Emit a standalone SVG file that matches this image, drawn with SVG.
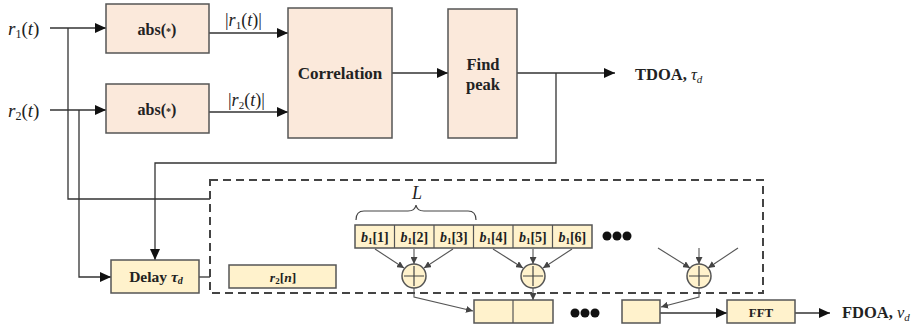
<svg xmlns="http://www.w3.org/2000/svg" width="912" height="329" viewBox="0 0 912 329">
<style>
.top{fill:#FBE9DB;stroke:#555;stroke-width:1.5}
.bot{fill:#FFF2CC;stroke:#555;stroke-width:1.5}
.ln{fill:none;stroke:#333;stroke-width:1.3}
.sm{fill:none;stroke:#555;stroke-width:1.1}
.t{font-family:"Liberation Serif","Times New Roman",serif;fill:#222}
.b{font-weight:bold}
.i{font-style:italic}
</style>
<defs>
<marker id="ah" markerUnits="userSpaceOnUse" markerWidth="12" markerHeight="10" refX="11" refY="5" orient="auto"><path d="M0,0 L11,5 L0,10 Z" fill="#111"/></marker>
<marker id="as" markerUnits="userSpaceOnUse" markerWidth="8" markerHeight="7" refX="7" refY="3.5" orient="auto"><path d="M0,0 L7,3.5 L0,7 Z" fill="#444"/></marker>
</defs>
<g id="labels">
<text class="t" x="8" y="35" font-size="19"><tspan class="i">r</tspan><tspan font-size="12" dy="3">1</tspan><tspan dy="-3">(</tspan><tspan class="i">t</tspan>)</text>
<text class="t" x="8" y="117" font-size="19"><tspan class="i">r</tspan><tspan font-size="12" dy="3">2</tspan><tspan dy="-3">(</tspan><tspan class="i">t</tspan>)</text>
<text class="t" x="225" y="26" font-size="18">|<tspan class="i">r</tspan><tspan font-size="11" dy="3">1</tspan><tspan dy="-3">(</tspan><tspan class="i">t</tspan>)|</text>
<text class="t" x="228" y="106" font-size="18">|<tspan class="i">r</tspan><tspan font-size="11" dy="3">2</tspan><tspan dy="-3">(</tspan><tspan class="i">t</tspan>)|</text>
<text class="t b" x="635" y="80" font-size="16.5">TDOA, <tspan class="i" font-weight="normal">τ</tspan><tspan class="i" font-weight="normal" font-size="11" dy="3">d</tspan></text>
<text class="t b" x="842" y="318" font-size="16.5">FDOA, <tspan class="i" font-weight="normal">ν</tspan><tspan class="i" font-weight="normal" font-size="11" dy="3">d</tspan></text>
<text class="t i" x="417" y="199" font-size="18" text-anchor="middle">L</text>
<path d="M356,220 Q356,211 364,211 L408,211 Q415,211 416,205 Q417,211 424,211 L468,211 Q476,211 476,220" fill="none" stroke="#444" stroke-width="1.2"/>
<g fill="#111"><circle cx="607" cy="236" r="4.5"/><circle cx="617" cy="236" r="4.5"/><circle cx="627" cy="236" r="4.5"/><circle cx="575" cy="313" r="4.5"/><circle cx="585" cy="313" r="4.5"/><circle cx="595" cy="313" r="4.5"/></g>
</g>
<g id="connectors">
<path class="ln" d="M50,28 H106" marker-end="url(#ah)"/>
<path class="ln" d="M50,110 H106" marker-end="url(#ah)"/>
<path class="ln" d="M68,28 V199 H210"/>
<path class="ln" d="M79,110 V277 H111" marker-end="url(#ah)"/>
<path class="ln" d="M209,33 H288" marker-end="url(#ah)"/>
<path class="ln" d="M209,112 H288" marker-end="url(#ah)"/>
<path class="ln" d="M392,73 H448" marker-end="url(#ah)"/>
<path class="ln" d="M517,73 H615" marker-end="url(#ah)"/>
<path class="ln" d="M556,73 V163 H155 V260" marker-end="url(#ah)"/>
<path class="ln" d="M199,277 H210"/>
<path class="sm" d="M375,249 L404,268" marker-end="url(#as)"/>
<path class="sm" d="M414,249 V264" marker-end="url(#as)"/>
<path class="sm" d="M453,249 L424,268" marker-end="url(#as)"/>
<path class="sm" d="M493,249 L523,268" marker-end="url(#as)"/>
<path class="sm" d="M533,249 V264" marker-end="url(#as)"/>
<path class="sm" d="M572,249 L543,268" marker-end="url(#as)"/>
<path class="sm" d="M658,248 L690,268" marker-end="url(#as)"/>
<path class="sm" d="M699,248 V264" marker-end="url(#as)"/>
<path class="sm" d="M738,248 L708,268" marker-end="url(#as)"/>
<path class="sm" d="M414,288 V297 L473,311" marker-end="url(#as)"/>
<path class="sm" d="M533,288 V300" marker-end="url(#as)"/>
<path class="sm" d="M699,288 V297 L661,307" marker-end="url(#as)"/>
<path class="ln" d="M660,313 H727" marker-end="url(#ah)"/>
<path class="ln" d="M795,313 H830" marker-end="url(#ah)"/>
</g>
<g id="dashbox"><rect x="210" y="180" width="553" height="113" fill="none" stroke="#444" stroke-width="2" stroke-dasharray="8,5"/></g>
<g id="abs1"><rect class="top" x="106" y="4" width="103" height="49"/><text class="t b" x="157" y="35" font-size="16" text-anchor="middle">abs(<tspan font-size="10">*</tspan>)</text></g>
<g id="abs2"><rect class="top" x="106" y="84" width="103" height="49"/><text class="t b" x="157" y="115" font-size="16" text-anchor="middle">abs(<tspan font-size="10">*</tspan>)</text></g>
<g id="corr"><rect class="top" x="288" y="8" width="104" height="130"/><text class="t b" x="340" y="79" font-size="17" text-anchor="middle">Correlation</text></g>
<g id="peak"><rect class="top" x="448" y="9" width="69" height="129"/><text class="t b" x="483" y="70" font-size="16.5" text-anchor="middle">Find</text><text class="t b" x="483" y="90" font-size="16.5" text-anchor="middle">peak</text></g>
<g id="delay"><rect class="bot" x="111" y="260" width="88" height="33"/><text class="t b" x="156" y="282" font-size="15.5" text-anchor="middle">Delay <tspan class="i">τ</tspan><tspan class="i" font-size="10" dy="2">d</tspan></text></g>
<g id="r2n"><rect class="bot" x="229" y="265" width="107" height="23"/><text class="t b" x="283" y="282" font-size="13.5" text-anchor="middle"><tspan class="i">r</tspan><tspan font-size="9" dy="2">2</tspan><tspan dy="-2">[</tspan><tspan class="i">n</tspan>]</text></g>
<g id="buffer">
<rect class="bot" x="355" y="225" width="237" height="23"/>
<path d="M394.5,225 V248 M434,225 V248 M473.5,225 V248 M513,225 V248 M552.5,225 V248" stroke="#555" stroke-width="1.2"/>
<g class="t b" font-size="14" text-anchor="middle">
<text x="374.8" y="242"><tspan class="i">b</tspan><tspan font-size="9" dy="2">1</tspan><tspan dy="-2">[1]</tspan></text>
<text x="414.3" y="242"><tspan class="i">b</tspan><tspan font-size="9" dy="2">1</tspan><tspan dy="-2">[2]</tspan></text>
<text x="453.8" y="242"><tspan class="i">b</tspan><tspan font-size="9" dy="2">1</tspan><tspan dy="-2">[3]</tspan></text>
<text x="493.3" y="242"><tspan class="i">b</tspan><tspan font-size="9" dy="2">1</tspan><tspan dy="-2">[4]</tspan></text>
<text x="532.8" y="242"><tspan class="i">b</tspan><tspan font-size="9" dy="2">1</tspan><tspan dy="-2">[5]</tspan></text>
<text x="572.3" y="242"><tspan class="i">b</tspan><tspan font-size="9" dy="2">1</tspan><tspan dy="-2">[6]</tspan></text>
</g>
</g>
<g id="sum1"><circle class="bot" cx="414" cy="276" r="12"/><path d="M404,276 H424 M414,266 V286" stroke="#444" stroke-width="1.2"/></g>
<g id="sum2"><circle class="bot" cx="533" cy="276" r="12"/><path d="M523,276 H543 M533,266 V286" stroke="#444" stroke-width="1.2"/></g>
<g id="sum3"><circle class="bot" cx="699" cy="276" r="12"/><path d="M689,276 H709 M699,266 V286" stroke="#444" stroke-width="1.2"/></g>
<g id="out"><rect class="bot" x="474" y="300" width="79" height="23"/><path d="M513,300 V323" stroke="#555" stroke-width="1.2"/></g>
<g id="outlast"><rect class="bot" x="622" y="300" width="38" height="23"/></g>
<g id="fft"><rect class="bot" x="727" y="300" width="68" height="23"/><text class="t b" x="761" y="317" font-size="13" text-anchor="middle">FFT</text></g>
</svg>
